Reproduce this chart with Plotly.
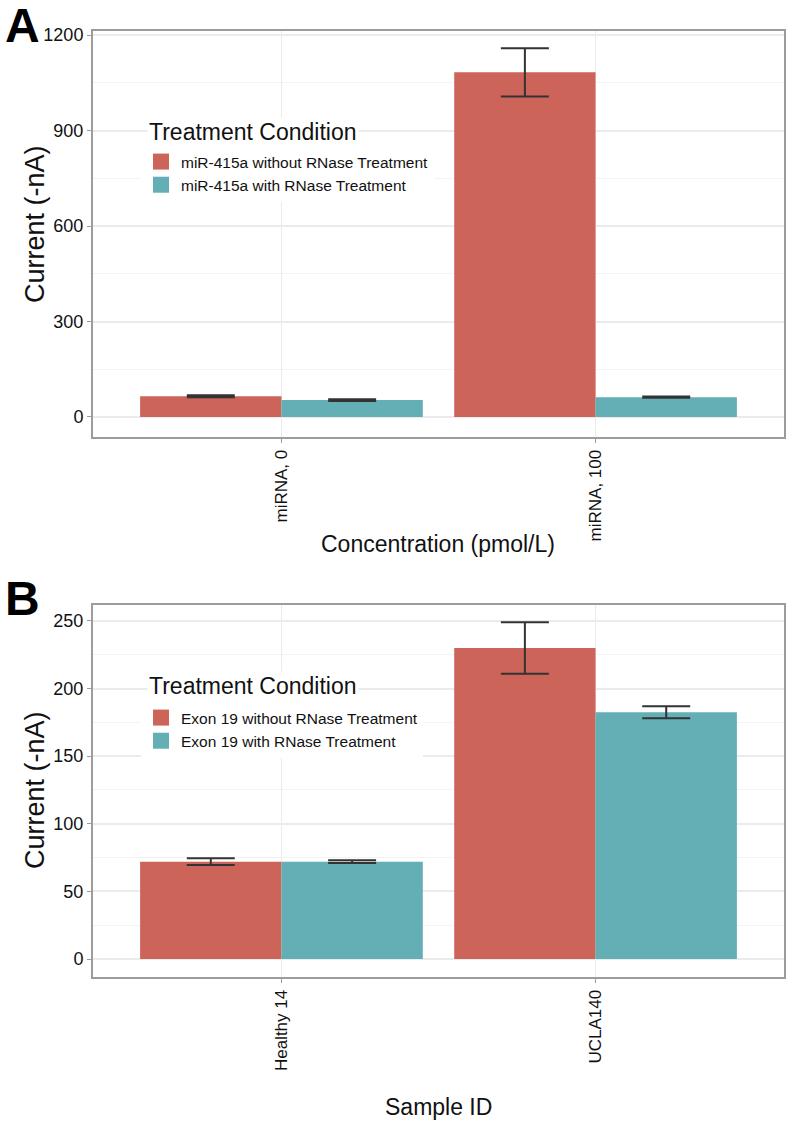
import plotly.graph_objects as go

# panel A
conc = ["miRNA, 0", "miRNA, 100"]
a_without = [65, 1083]
a_without_err = [3, 76]
a_with = [53, 62]
a_with_err = [3, 2]

# panel B
samples = ["Healthy 14", "UCLA140"]
b_without = [72, 230]
b_without_err = [2.5, 19]
b_with = [72, 182.5]
b_with_err = [1, 4.5]

RED = "#CD645A"
TEAL = "#63AFB5"
FONT = "Liberation Sans, Arial, sans-serif"

W, H = 788, 1123
ML, MR, MT, MB = 93, 4, 31, 146
PH = H - MT - MB
PW = W - ML - MR


def py(y):
    # pixel row -> paper y
    return (H - MB - y) / PH


def px(x):
    return (x - ML) / PW


err_style = dict(type="data", color="#333333", thickness=2, width=24, visible=True)

fig = go.Figure()


def add_group(cats, vals, errs, name, color, xa, ya, lg):
    fig.add_trace(go.Bar(x=cats, y=vals, name=name, showlegend=False,
                         marker=dict(color=color, line=dict(width=0)),
                         error_y=dict(array=errs, **err_style),
                         xaxis=xa, yaxis=ya))
    # square legend key
    fig.add_trace(go.Scatter(x=[None], y=[None], mode="markers", name=name,
                             marker=dict(symbol="square", size=18, color=color),
                             xaxis=xa, yaxis=ya, legend=lg))


add_group(conc, a_without, a_without_err, "miR-415a without RNase Treatment", RED, "x", "y", "legend")
add_group(conc, a_with, a_with_err, "miR-415a with RNase Treatment", TEAL, "x", "y", "legend")
add_group(samples, b_without, b_without_err, "Exon 19 without RNase Treatment", RED, "x2", "y2", "legend2")
add_group(samples, b_with, b_with_err, "Exon 19 with RNase Treatment", TEAL, "x2", "y2", "legend2")

xax = dict(
    type="category", range=[-0.6, 1.6], showline=True, mirror=True,
    linecolor="#9C9C9C", linewidth=2, ticks="outside", ticklen=4, tickcolor="#9C9C9C",
    tickangle=-90, tickfont=dict(size=17, color="#111111"),
    showgrid=True, gridcolor="#EBEBEB", gridwidth=1, zeroline=False,
)
yax = dict(
    showline=True, mirror=True, linecolor="#9C9C9C", linewidth=2,
    ticks="outside", ticklen=4, tickcolor="#9C9C9C",
    tickfont=dict(size=18, color="#111111"),
    showgrid=True, gridcolor="#EBEBEB", gridwidth=1.5, zeroline=False,
    minor=dict(showgrid=True, gridcolor="#F3F3F3", gridwidth=1, ticks=""),
)

leg = dict(
    bgcolor="white", xanchor="left", yanchor="top",
    font=dict(size=15.5, color="#111111"),
    itemsizing="trace", traceorder="normal", tracegroupgap=0,
)

fig.update_layout(
    width=W, height=H,
    margin=dict(l=ML, r=MR, t=MT, b=MB, autoexpand=False),
    paper_bgcolor="white", plot_bgcolor="white",
    font=dict(family=FONT, color="#111111"),
    barmode="group", bargap=0.1, bargroupgap=0,
    xaxis=dict(xax, domain=[0, 1], anchor="y"),
    yaxis=dict(yax, domain=[py(437), 1], anchor="x", range=[-63, 1213],
               tickvals=[0, 300, 600, 900, 1200],
               minor=dict(yax["minor"], tickvals=[150, 450, 750, 1050])),
    xaxis2=dict(xax, domain=[0, 1], anchor="y2"),
    yaxis2=dict(yax, domain=[0, py(605)], anchor="x2", range=[-13.3, 261.8],
                tickvals=[0, 50, 100, 150, 200, 250],
                minor=dict(yax["minor"], tickvals=[25, 75, 125, 175, 225])),
    legend=dict(leg, x=px(141), y=py(145)),
    legend2=dict(leg, x=px(141), y=py(701)),
    showlegend=True,
)

# legend titles, placed by hand so the gap to the keys matches
for ty in (132, 686):
    fig.add_annotation(text="Treatment Condition", xref="paper", yref="paper",
                       x=px(147), y=py(ty), xanchor="left", yanchor="middle",
                       showarrow=False, bgcolor="white",
                       font=dict(size=23, family=FONT, color="#111111"))

annos = [
    dict(text="<b>A</b>", x=px(3), y=py(-3), font=dict(size=48, family=FONT, color="black")),
    dict(text="<b>B</b>", x=px(3), y=py(570), font=dict(size=48, family=FONT, color="black")),
]
for a in annos:
    a.update(xref="paper", yref="paper", xanchor="left", yanchor="top", showarrow=False)
    fig.add_annotation(**a)

titles = [
    dict(text="Current (-nA)", x=px(35), y=py(224), textangle=-90, font=dict(size=27)),
    dict(text="Concentration (pmol/L)", x=px(438), y=py(544), textangle=0, font=dict(size=23)),
    dict(text="Current (-nA)", x=px(35), y=py(790), textangle=-90, font=dict(size=27)),
    dict(text="Sample ID", x=px(438), y=py(1107), textangle=0, font=dict(size=23)),
]
for t in titles:
    t["font"].update(family=FONT, color="#111111")
    fig.add_annotation(xref="paper", yref="paper", xanchor="center", yanchor="middle",
                       showarrow=False, **t)

# the default page has an 8px body margin; drop it so the figure fills the window
fig.write_html("out.html", config={"displayModeBar": False},
               post_script="document.body.style.margin='0px';")
